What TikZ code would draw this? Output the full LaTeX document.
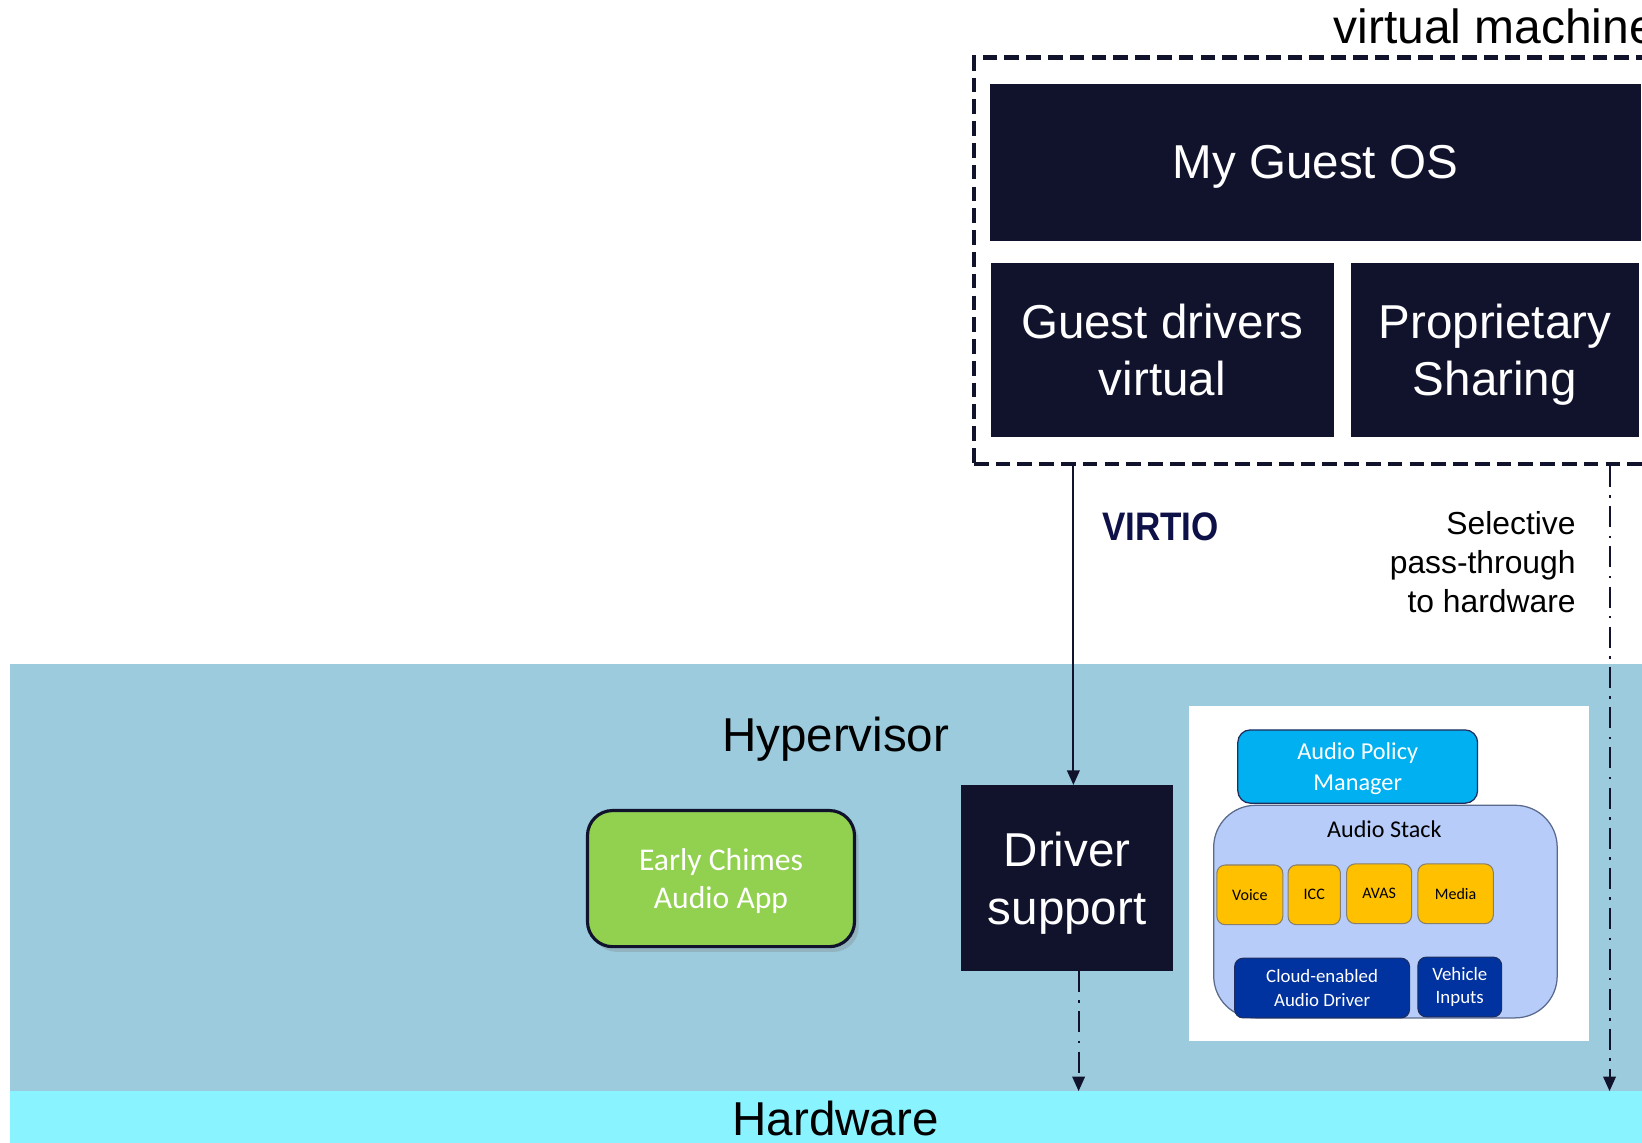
\documentclass[tikz,border=0pt]{standalone}
\usepackage{fontspec}
\usepackage{graphicx}
\setmainfont{Liberation Sans}
\newfontfamily\calfont{Carlito}
\usetikzlibrary{arrows.meta,shadows}
\definecolor{navy}{HTML}{11132D}
\definecolor{hypc}{HTML}{9BCBDD}
\definecolor{hwc}{HTML}{89F3FF}
\definecolor{greenc}{HTML}{92D050}
\definecolor{apmc}{HTML}{00B0F0}
\definecolor{stackc}{HTML}{B7CCF9}
\definecolor{stackb}{HTML}{5A6A8C}
\definecolor{orangec}{HTML}{FFC000}
\definecolor{orangeb}{HTML}{8A7F6A}
\definecolor{dbluec}{HTML}{0033A0}
\definecolor{dblueb}{HTML}{1F2E5E}
\definecolor{virtioc}{HTML}{0E1048}
\newcommand\myfs[2]{\fontsize{#1}{#2}\selectfont}
\begin{document}
\begin{tikzpicture}[x=0.5pt,y=-0.5pt,
  band/.style={inner sep=0pt,outer sep=0pt},
  darkbox/.style={fill=navy,text=white,inner sep=0pt,align=center,text depth=0pt,
    font=\myfs{22.7pt}{27.5pt}},
  bigtext/.style={font=\myfs{22.7pt}{27.5pt}},
  conn/.style={draw=navy,line width=1pt,-{Triangle[length=7pt,width=6pt]}},
  dashdot/.style={conn,dash pattern=on 10pt off 4pt on 1.2pt off 4pt},
  chip/.style={fill=orangec,draw=orangeb,line width=0.5pt,rounded corners=4pt,
    inner sep=0pt,minimum height=28.5pt,font=\calfont\myfs{7.65pt}{9pt}},
  drvchip/.style={fill=dbluec,draw=dblueb,line width=0.5pt,rounded corners=4pt,
    inner sep=0pt,minimum height=28.5pt,text=white,align=center,
    font=\calfont\myfs{9pt}{11pt}}]
\useasboundingbox (0,0) rectangle (1568,1091);
\fill[white] (0,0) rectangle (1568,1091);

% bands
\node[band,fill=hypc,minimum width=779.25pt,minimum height=204pt] (hyp) at (788.75,838) {};
\node[band,fill=hwc,minimum width=779.25pt,minimum height=24.5pt] (hw) at (788.75,1066.5) {};
\node[bigtext,anchor=base] (hyplabel) at (798,718) {Hypervisor};
\node[bigtext,anchor=base] (hwlabel) at (798,1084) {Hardware};

% virtual machine
\node[font=\myfs{22.9pt}{27.5pt},anchor=base west,inner sep=0pt] (vmlabel) at (1273,42) {virtual machine};
\node[draw=navy,line width=2pt,dash pattern=on 7pt off 3.4pt,inner sep=0pt,
  minimum width=335pt,minimum height=194pt] (vm) at (1265,249) {};
\node[darkbox,minimum width=311pt,minimum height=75pt] (os) at (1256,155) {My Guest OS};
\node[darkbox,minimum width=164pt,minimum height=83pt] (gdv) at (1110,334) {Guest drivers\\virtual};
\node[darkbox,minimum width=137.5pt,minimum height=83pt] (ps) at (1427.5,334) {Proprietary\\Sharing};

% labels
\node[anchor=base west,inner sep=0pt,text=virtioc,font=\bfseries\myfs{19pt}{19pt}] (virtio) at (1052,516) {\scalebox{0.88}[1]{VIRTIO}};
\node[anchor=east,align=right,inner sep=0pt,font=\myfs{15.2pt}{18.5pt}] (sel) at (1505,537) {Selective\\pass-through\\to hardware};

% audio panel
\node[band,fill=white,minimum width=191pt,minimum height=160pt] (wbox) at (1326,834) {};
\node[fill=stackc,draw=stackb,line width=0.6pt,rounded corners=20pt,inner sep=0pt,
  minimum width=164pt,minimum height=101.5pt] (stack) at (1323,870.5) {};
\node[font=\calfont\myfs{11.5pt}{13pt},inner sep=0pt] (stacklabel) at (1322,792) {Audio Stack};
\node[fill=apmc,draw=dblueb,line width=0.6pt,rounded corners=6pt,inner sep=0pt,
  text=white,align=center,text depth=0pt,font=\calfont\myfs{11.6pt}{14.5pt},
  minimum width=114.5pt,minimum height=35pt] (apm) at (1296.5,732) {Audio Policy\\Manager};
\node[chip,minimum width=31.5pt] (voice) at (1193.5,854.5) {Voice};
\node[chip,minimum width=25pt] (icc) at (1255,854.5) {ICC};
\node[chip,minimum width=31pt] (avas) at (1317,853.5) {AVAS};
\node[chip,minimum width=36pt] (media) at (1390,853.5) {Media};
\node[drvchip,minimum width=83.5pt] (cead) at (1262.5,943.5) {Cloud-enabled\\Audio Driver};
\node[drvchip,minimum width=40pt] (vi) at (1394,942.5) {Vehicle\\Inputs};

% hypervisor blocks
\node[darkbox,minimum width=101pt,minimum height=88.5pt] (drv) at (1019,838.5) {Driver\\support};
\node[fill=greenc,draw=navy,line width=1.5pt,rounded corners=12pt,inner sep=0pt,
  text=white,align=center,text depth=0pt,font=\calfont\myfs{15.1pt}{18pt},
  drop shadow={shadow xshift=2pt,shadow yshift=-2.5pt,opacity=0.3},
  minimum width=127.5pt,minimum height=65pt] (ecaa) at (688.5,839) {Early Chimes\\Audio App};

% connectors
\coordinate (vx) at (1025,0);
\coordinate (dx) at (1030,0);
\coordinate (rx) at (1537,0);
\draw[conn] (vm.south -| vx) -- (drv.north -| vx);
\draw[dashdot] (drv.south -| dx) -- (hw.north -| dx);
\draw[dashdot] (vm.south -| rx) -- (hw.north -| rx);
\end{tikzpicture}
\end{document}
